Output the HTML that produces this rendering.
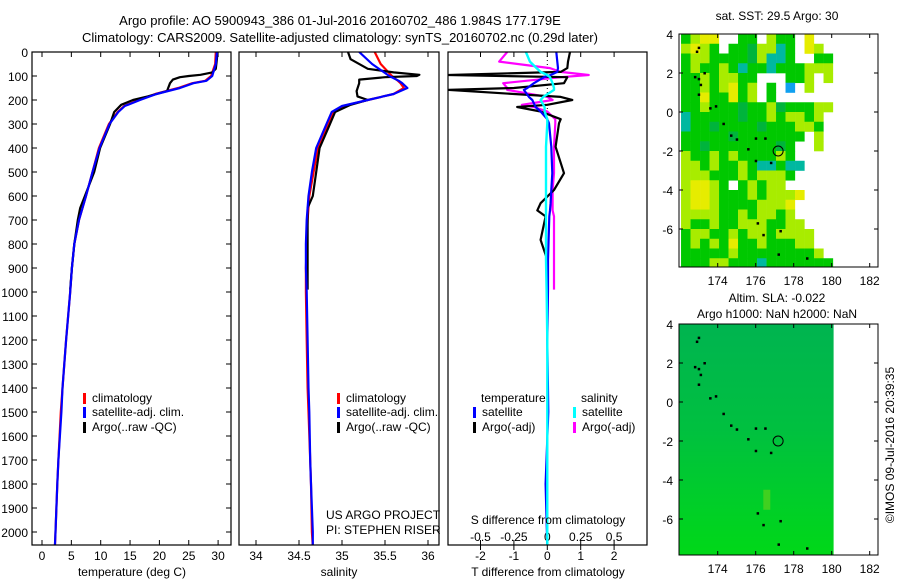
<!DOCTYPE html>
<html><head><meta charset="utf-8">
<style>
html,body{margin:0;padding:0;background:#fff;}
svg{display:block;font-family:"Liberation Sans",Arial,sans-serif;}
text{font-size:12px;fill:#000;}
</style></head>
<body>
<svg id="chart" width="900" height="580" viewBox="0 0 900 580"></svg>
<script>
// ---------- DATA ----------
const depthTicks=[0,100,200,300,400,500,600,700,800,900,1000,1100,1200,1300,1400,1500,1600,1700,1800,1900,2000];
const tempTicks=[0,5,10,15,20,25,30];
const salTicks=[34,34.5,35,35.5,36];
const tdiffTicks=[-2,-1,0,1,2];
const sdiffTicks=[-0.5,-0.25,0,0.25,0.5];
const sdiffTickLabels=["-0.5","-0.25","0","0.25","0.5"];

const climDepth=[0,50,100,120,130,150,175,200,225,250,300,400,500,600,700,800,900,1000,1200,1400,1500,1700,1800,2000,2060];
const tempClim=[29.6,29.5,28.8,27.8,25.6,23.2,19.3,16.5,14.0,12.9,11.4,9.7,8.6,7.5,6.3,5.5,5.1,4.8,4.1,3.5,3.2,2.8,2.6,2.3,2.2];
const tempSat=[29.8,29.6,29.0,28.0,25.8,23.5,19.5,16.7,14.1,13.0,11.5,9.8,8.6,7.5,6.3,5.5,5.1,4.8,4.1,3.5,3.3,2.8,2.6,2.3,2.2];
const salClim=[35.38,35.45,35.58,35.65,35.68,35.72,35.6,35.3,35.02,34.9,34.84,34.72,34.67,34.62,34.6,34.59,34.58,34.58,34.59,34.6,34.61,34.63,34.64,34.65,34.66];
const salSat=[35.2,35.35,35.55,35.66,35.7,35.76,35.6,35.3,35.0,34.88,34.82,34.7,34.65,34.61,34.59,34.58,34.58,34.59,34.6,34.61,34.62,34.63,34.64,34.66,34.66];

const argoDepth=[0,30,70,85,95,100,105,115,130,163,185,200,220,250,300,400,500,600,650,700,800,900,990];
const tempArgo=[29.9,29.8,29.6,29.0,27.0,25.0,23.5,22.3,21.8,21.3,18.0,15.5,13.5,12.3,11.6,9.9,8.9,7.3,6.5,6.1,5.5,5.1,4.8];
const salArgo=[35.07,35.1,35.3,35.6,35.9,35.87,35.5,35.2,35.2,35.17,35.18,35.3,35.1,34.92,34.86,34.74,34.7,34.66,34.6,34.6,34.6,34.6,34.6];

const diffDepth=[0,40,67,83,96,105,130,150,158,187,200,220,229,248,280,297,395,505,575,630,660,685,783,866,990,1200,1500,1800,2060];
const tdiffSat=[0.27,0.3,0.32,0.3,0.1,-0.1,-0.4,-0.6,-0.7,-0.55,-0.45,-0.38,-0.35,-0.2,0.0,0.05,0.12,0.15,0.12,0.1,0.08,0.06,0.04,0.02,0.02,0.0,0.03,-0.05,0.0];
const tdiffArgo=[0.68,0.62,0.6,0.4,-2.95,0.6,0.5,-1.0,-2.95,0.4,0.75,0.0,-0.9,-0.2,0.4,0.35,0.25,0.5,0.2,-0.2,-0.3,-0.05,-0.2,0.0,0.0,null,null,null,null];
const sdiffSat=[-0.16,-0.13,-0.08,-0.05,0.0,0.02,0.04,0.05,0.05,-0.03,-0.05,-0.03,-0.02,-0.02,0.0,0.0,-0.01,-0.01,-0.01,-0.01,-0.01,-0.01,-0.01,-0.01,-0.005,0.0,0.0,0.0,0.0];
const sdiffArgo=[-0.3,-0.36,0.02,0.1,0.31,0.1,-0.33,-0.3,-0.3,0.0,0.04,-0.19,-0.1,0.0,0.06,0.06,0.05,0.05,0.04,0.04,0.04,0.05,0.05,0.05,0.05,null,null,null,null];

// map data (0.5 deg cells, lon 172.1..180.1, lat 4..-7.9)
const sstRows=[
"glyywwggwlggwyww","lylgwggdlltgwylw","gllggggdlttgwwgg","glgglgtggtggglll",
"gglgllggwwwgglwl","gglglyglwgwbwlww","ggyggyglwgwwwwww","gglgggdggldgggll",
"tgggggdgglgllglw","tggdggggdgggllgw","gggggdgggggggwlw","ggdgggggggdgwwlw",
"lgglglgggglgwwww","llglgglgttgttwww","lllggglglllgwwww","lyylgwglgllwwwww",
"lyylggglglllywww","lyylgggglllywwww","llllgglgllglwwww","lgglgglllggllwww",
"gllgglgllgllllww","glglgygglgggllww","ggggglgggggggglw","gggllgggtggggggg"];
const islandLon=[172.9,173.0,172.8,173.0,173.1,173.0,173.3,173.6,173.9,174.3,174.7,175.0,175.6,176.0,176.5,176.8,176.0,176.1,176.4,177.3,177.2,178.7];
const islandLat=[3.1,3.3,1.8,1.7,1.4,0.9,2.0,0.2,0.3,-0.6,-1.2,-1.4,-1.9,-1.35,-1.35,-2.6,-2.5,-5.7,-6.3,-6.1,-7.3,-7.5];
const argoLon=177.18, argoLat=-2.0;
const lonTicks=[174,176,178,180,182];
const latTicks=[4,2,0,-2,-4,-6];

// ---------- HELPERS ----------
const NS="http://www.w3.org/2000/svg";
const svg=document.getElementById('chart');
function el(tag,attrs,parent){const e=document.createElementNS(NS,tag);for(const k in attrs)e.setAttribute(k,attrs[k]);(parent||svg).appendChild(e);return e;}
function txt(x,y,s,anchor,name,parent,extra){const t=el('text',Object.assign({x:x,y:y,'text-anchor':anchor||'start'},extra||{}),parent);t.textContent=s;


return t;}

const TOP=52,BOT=545;
const yD=d=>TOP+d*0.24;
const xT=t=>42+t*5.87;
const xS=s=>256+(s-34)*86;
const xTd=t=>547.3+t*33.4;
const xSd=s=>547.3+s*4*33.4;

function panel(x0,x1,name){
  const g=el('g',{});
  
  
  const cp=el('clipPath',{id:'clip-'+name},g);el('rect',{x:x0,y:TOP,width:x1-x0,height:BOT-TOP},cp);
  return g;
}
function frame(g,x0,x1){const r=el('rect',{x:x0,y:TOP,width:x1-x0,height:BOT-TOP,fill:'none',stroke:'#000','stroke-width':1.2},g);

}
function line(g,ds,vs,fx,color,w,name,clip){
  let d='',pen=false;
  for(let i=0;i<ds.length;i++){
    if(vs[i]===null){pen=false;continue;}
    d+=(pen?'L':'M')+fx(vs[i]).toFixed(1)+','+yD(ds[i]).toFixed(1);pen=true;
  }
  const p=el('path',{d:d,fill:'none',stroke:color,'stroke-width':w,'stroke-linejoin':'round','clip-path':'url(#clip-'+clip+')'},g);
  
  
}
function xticks(g,vals,fx,labels,ylab,name){
  vals.forEach((v,i)=>{const x=fx(v);
    el('line',{x1:x,x2:x,y1:BOT,y2:BOT-5,stroke:'#000'},g);
    el('line',{x1:x,x2:x,y1:TOP,y2:TOP+5,stroke:'#000'},g);
    if(labels)txt(x,ylab,labels[i],'middle',name,g);});
}
function legendEntry(g,x,y,color,label,name){
  const r=el('rect',{x:x,y:y-9,width:3,height:11,fill:color},g);
  
  
  txt(x+9,y,label,'start',name,g);
}

// ---------- TITLES ----------
txt(340,25,'Argo profile: AO 5900943_386 01-Jul-2016 20160702_486 1.984S 177.179E','middle','title-line-1',null,{style:'font-size:13px'});
txt(340,42,'Climatology: CARS2009. Satellite-adjusted climatology: synTS_20160702.nc (0.29d later)','middle','title-line-2',null,{style:'font-size:13px'});

// ---------- PANEL 1 TEMPERATURE ----------
let g1=panel(32,231,'temperature-panel');
depthTicks.forEach(d=>{const y=yD(d);
  el('line',{x1:32,x2:37,y1:y,y2:y,stroke:'#000'},g1);
  el('line',{x1:231,x2:226,y1:y,y2:y,stroke:'#000'},g1);
  txt(28,y+5,String(d),'end','depth-tick-label',g1);});
xticks(g1,tempTicks,xT,tempTicks.map(String),560,'temperature-tick-label');
line(g1,climDepth,tempClim,xT,'#ff0000',2.2,'temperature-climatology-line','temperature-panel');
line(g1,argoDepth,tempArgo,xT,'#000000',2.2,'temperature-argo-line','temperature-panel');
line(g1,climDepth,tempSat,xT,'#0000ff',2.2,'temperature-satellite-line','temperature-panel');
frame(g1,32,231);
legendEntry(g1,83,402,'#ff0000','climatology','legend-climatology');
legendEntry(g1,83,416,'#0000ff','satellite-adj. clim.','legend-satellite-adj');
legendEntry(g1,83,431,'#000000','Argo(..raw -QC)','legend-argo');
txt(132,576,'temperature (deg C)','middle','x-axis-title-temperature',g1);

// ---------- PANEL 2 SALINITY ----------
let g2=panel(239,439,'salinity-panel');
xticks(g2,salTicks,xS,salTicks.map(String),560,'salinity-tick-label');
line(g2,climDepth,salClim,xS,'#ff0000',2.2,'salinity-climatology-line','salinity-panel');
line(g2,argoDepth,salArgo,xS,'#000000',2.2,'salinity-argo-line','salinity-panel');
line(g2,climDepth,salSat,xS,'#0000ff',2.2,'salinity-satellite-line','salinity-panel');
frame(g2,239,439);
legendEntry(g2,337,402,'#ff0000','climatology','legend-climatology');
legendEntry(g2,337,416,'#0000ff','satellite-adj. clim.','legend-satellite-adj');
legendEntry(g2,337,431,'#000000','Argo(..raw -QC)','legend-argo');
txt(326,519,'US ARGO PROJECT','start','project-label',g2);
txt(326,534,'PI: STEPHEN RISER','start','pi-label',g2);
txt(339,576,'salinity','middle','x-axis-title-salinity',g2);

// ---------- PANEL 3 DIFFERENCES ----------
let g3=panel(448,647,'difference-panel');
tdiffTicks.forEach(v=>{const x=xTd(v);el('line',{x1:x,x2:x,y1:TOP,y2:TOP+5,stroke:'#000'},g3);el('line',{x1:x,x2:x,y1:BOT,y2:BOT+5,stroke:'#000'},g3);txt(x,560,String(v),'middle','t-diff-tick-label',g3);});
sdiffTicks.forEach((v,i)=>{const x=xSd(v);el('line',{x1:x,x2:x,y1:BOT,y2:BOT-5,stroke:'#000'},g3);txt(x,541,sdiffTickLabels[i],'middle','s-diff-tick-label',g3);});
el('line',{x1:xTd(0),x2:xTd(0),y1:TOP,y2:TOP+60,stroke:'#000','stroke-dasharray':'1,3'},g3);
line(g3,diffDepth,sdiffArgo,xSd,'#ff00ff',2.2,'salinity-argo-diff-line','difference-panel');
line(g3,diffDepth,tdiffArgo,xTd,'#000000',2.2,'temperature-argo-diff-line','difference-panel');
line(g3,diffDepth,tdiffSat,xTd,'#0000ff',2.2,'temperature-satellite-diff-line','difference-panel');
line(g3,diffDepth,sdiffSat,xSd,'#00ffff',2.4,'salinity-satellite-diff-line','difference-panel');
frame(g3,448,647);
txt(481,402,'temperature','start','legend-temperature-header',g3);
txt(581,402,'salinity','start','legend-salinity-header',g3);
legendEntry(g3,473,416,'#0000ff','satellite','legend-temperature-satellite');
legendEntry(g3,473,431,'#000000','Argo(-adj)','legend-temperature-argo');
legendEntry(g3,573,416,'#00ffff','satellite','legend-salinity-satellite');
legendEntry(g3,573,431,'#ff00ff','Argo(-adj)','legend-salinity-argo');
txt(548,524,'S difference from climatology','middle','s-diff-axis-title',g3);
txt(548,576,'T difference from climatology','middle','t-diff-axis-title',g3);

// ---------- MAPS ----------
const MX0=679,MX1=878;
const mxL=lon=>717.7+(lon-174)*19;
function mapAxes(top,name){
  const g=el('g',{});
  
  
  const myL=lat=>top+(4-lat)*19.5;
  return {g,myL};
}
const colors={g:'#00c800',d:'#00b43c',l:'#a8ec00',y:'#e6ec00',t:'#00b8a0',b:'#10a0f0'};
function drawIslands(g,myL){
  islandLon.forEach((lo,i)=>{const r=el('rect',{x:mxL(lo)-1,y:myL(islandLat[i])-1,width:2.5,height:2.5,fill:'#000'},g);
    
    });
  const c=el('circle',{cx:mxL(argoLon),cy:myL(argoLat),r:5,fill:'none',stroke:'#000','stroke-width':1},g);
  
  
}
function mapFrame(g,top,bottom,myL){
  const r=el('rect',{x:MX0,y:top,width:MX1-MX0,height:bottom-top,fill:'none',stroke:'#000'},g);
  
  
  lonTicks.forEach(lo=>{const x=mxL(lo);el('line',{x1:x,x2:x,y1:bottom,y2:bottom-4,stroke:'#000'},g);el('line',{x1:x,x2:x,y1:top,y2:top+4,stroke:'#000'},g);txt(x,bottom+18,String(lo),'middle','longitude-tick-label',g);});
  latTicks.forEach(la=>{const y=myL(la);el('line',{x1:MX0,x2:MX0+4,y1:y,y2:y,stroke:'#000'},g);el('line',{x1:MX1,x2:MX1-4,y1:y,y2:y,stroke:'#000'},g);txt(MX0-6,y+5,String(la),'end','latitude-tick-label',g);});
}
// SST map
{
  const top=34,bottom=267;const {g,myL}=mapAxes(top,'sst-map');
  txt(777,20,'sat. SST: 29.5 Argo: 30','middle','sst-map-title',g);
  sstRows.forEach((row,j)=>{for(let i=0;i<row.length;i++){const c=row[i];if(c==='w')continue;
    const lo=172.07+i*0.5,la=4-j*0.5;const y0=myL(la),y1=Math.min(myL(la-0.5),bottom);
    const r=el('rect',{x:mxL(lo),y:y0,width:9.6,height:y1-y0+0.3,fill:colors[c]},g);
    
    }});
  drawIslands(g,myL);mapFrame(g,top,bottom,myL);
}
// SLA map
{
  const top=324,bottom=555;const {g,myL}=mapAxes(top,'sla-map');
  txt(777,302,'Altim. SLA: -0.022','middle','sla-map-title',g);
  txt(777,318,'Argo h1000: NaN h2000: NaN','middle','sla-map-subtitle',g);
  const defs=el('defs',{},g);const lg=el('linearGradient',{id:'slaGrad',x1:0,y1:0,x2:0,y2:1},defs);
  el('stop',{offset:'0','stop-color':'#00b450'},lg);el('stop',{offset:'0.45','stop-color':'#00c040'},lg);el('stop',{offset:'1','stop-color':'#00d818'},lg);
  const r=el('rect',{x:MX0,y:top,width:mxL(180.1)-MX0,height:bottom-top,fill:'url(#slaGrad)'},g);
  
  
  const p=el('rect',{x:mxL(176.4),y:myL(-4.5),width:7,height:20,fill:'#40d020'},g);
  
  
  drawIslands(g,myL);mapFrame(g,top,bottom,myL);
}
txt(0,0,'©IMOS 09-Jul-2016 20:39:35','middle','timestamp-label',null,{transform:'translate(894,445) rotate(-90)'});
</script>
</body></html>
